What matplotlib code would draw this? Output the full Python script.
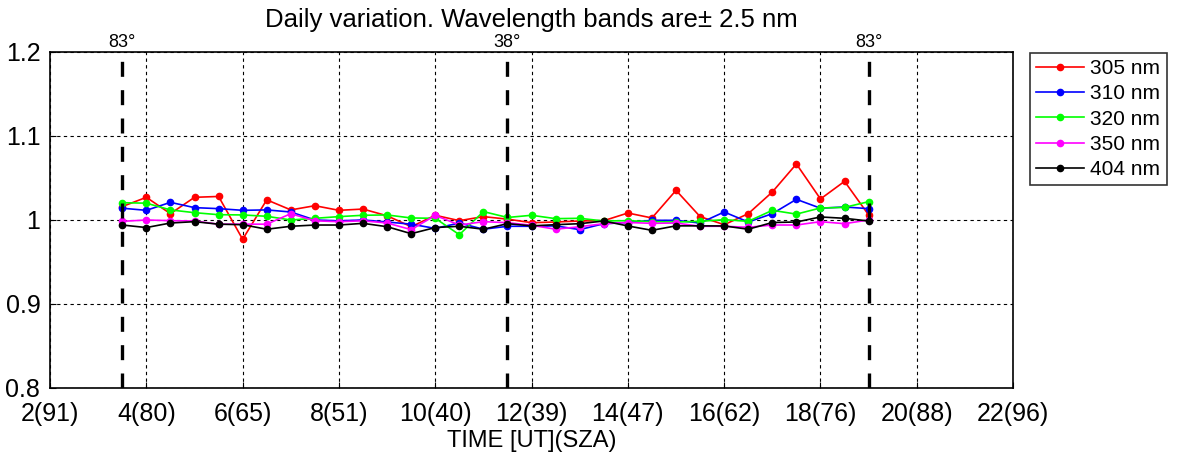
import numpy as np
import matplotlib
matplotlib.use("Agg")
import matplotlib.pyplot as plt

plt.rcParams['font.family'] = ['Liberation Sans', 'DejaVu Sans']

# measurement times (UT hours), one every half hour
times = [3.5, 4.0, 4.5, 5.0, 5.5, 6.0, 6.5, 7.0, 7.5, 8.0, 8.5, 9.0, 9.5, 10.0,
         10.5, 11.0, 11.5, 12.0, 12.5, 13.0, 13.5, 14.0, 14.5, 15.0, 15.5, 16.0,
         16.5, 17.0, 17.5, 18.0, 18.5, 19.0]

ratio_305 = [1.016, 1.027, 1.0075, 1.027, 1.028, 0.977, 1.024, 1.012, 1.017, 1.0115,
             1.013, 1.005, 0.992, 1.0056, 0.9992, 1.004, 1.001, 0.9968, 0.9976, 0.9988,
             0.9992, 1.0083, 1.0024, 1.0353, 1.004, 0.9944, 1.0075, 1.0333, 1.0667,
             1.025, 1.046, 1.006]
ratio_310 = [1.014, 1.0115, 1.021, 1.0147, 1.0135, 1.0115, 1.012, 1.0095, 1.0, 0.999,
             1.0, 0.9976, 0.995, 0.99, 0.9964, 0.989, 0.9925, 0.9925, 0.993, 0.9885,
             0.9956, 0.997, 0.9996, 0.9996, 0.9964, 1.0095, 0.9976, 1.0075, 1.0246,
             1.014, 1.0155, 1.0135]
ratio_320 = [1.0206, 1.020, 1.012, 1.0087, 1.0063, 1.006, 1.0044, 1.0, 1.002, 1.004,
             1.0056, 1.006, 1.0024, 1.002, 0.9825, 1.010, 1.003, 1.0056, 1.0016, 1.002,
             0.9988, 0.9992, 0.998, 0.9976, 0.9984, 1.0004, 0.9984, 1.0115, 1.007,
             1.0143, 1.015, 1.0218]
ratio_350 = [0.9984, 1.0, 0.9992, 0.9988, 0.995, 0.995, 0.995, 1.0075, 0.999, 0.998,
             0.999, 0.9964, 0.9885, 1.0055, 0.994, 0.998, 0.9968, 0.9937, 0.989, 0.992,
             0.9956, 0.997, 0.996, 0.9964, 0.9925, 0.9925, 0.9913, 0.994, 0.994,
             0.998, 0.9956, 1.0]
ratio_404 = [0.994, 0.991, 0.9964, 0.998, 0.995, 0.9944, 0.989, 0.9925, 0.994, 0.994,
             0.996, 0.992, 0.9837, 0.991, 0.9925, 0.989, 0.9956, 0.993, 0.9944, 0.9956,
             0.9988, 0.9929, 0.9877, 0.993, 0.993, 0.9929, 0.989, 0.997, 0.9976,
             1.0036, 1.002, 0.9988]

series_labels = ['305 nm', '310 nm', '320 nm', '350 nm', '404 nm']
series_colors = ['#ff0000', '#0000ff', '#00ff00', '#ff00ff', '#000000']

# x ticks: UT hour with solar zenith angle in brackets
tick_hours = [2, 4, 6, 8, 10, 12, 14, 16, 18, 20, 22]
tick_labels = ['2(91)', '4(80)', '6(65)', '8(51)', '10(40)', '12(39)',
               '14(47)', '16(62)', '18(76)', '20(88)', '22(96)']

# marked solar zenith angles
sza_hours = [3.5, 11.5, 19.0]
sza_labels = ['83°', '38°', '83°']

fig = plt.figure(figsize=(11.86, 4.54), dpi=100)
ax = fig.add_axes([0.0422, 0.1454, 0.8120, 0.7401])

all_series = [ratio_305, ratio_310, ratio_320, ratio_350, ratio_404]
for values, label, color in zip(all_series, series_labels, series_colors):
    ax.plot(times, values, color=color, linewidth=1.2, marker='o',
            markersize=4.5, label=label)

for h, lab in zip(sza_hours, sza_labels):
    ax.axvline(h, color='black', linewidth=2.4, dashes=(4.5, 4), zorder=5)
    ax.text(h, 1.201, lab, ha='center', va='bottom', fontsize=13)

ax.set_xlim(2, 22)
ax.set_ylim(0.8, 1.2)
ax.set_xticks(tick_hours)
ax.set_xticklabels(tick_labels)
ax.set_yticks([0.8, 0.9, 1.0, 1.1, 1.2])
ax.set_yticklabels(['0.8', '0.9', '1', '1.1', '1.2'])
ax.tick_params(direction='in', length=4, width=0.8, labelsize=18)
ax.tick_params(axis='x', pad=10)
ax.tick_params(axis='y', pad=7)
ax.grid(True, color='black', linewidth=0.8, dashes=(3, 3))
for sp in ax.spines.values():
    sp.set_linewidth(1.2)

ax.set_xlabel('TIME [UT](SZA)', fontsize=17, labelpad=3)
ax.set_title('Daily variation. Wavelength bands are\u00b1 2.5 nm', fontsize=18.5, pad=18)

leg = fig.legend(loc='upper left', bbox_to_anchor=(0.8685, 0.8833), fontsize=15,
                 frameon=True, fancybox=False, edgecolor='black', handlelength=2.3,
                 borderpad=0.3, labelspacing=0.3, handletextpad=0.3,
                 borderaxespad=0)
leg.get_frame().set_linewidth(1.2)

fig.savefig('out.png', dpi=100)
